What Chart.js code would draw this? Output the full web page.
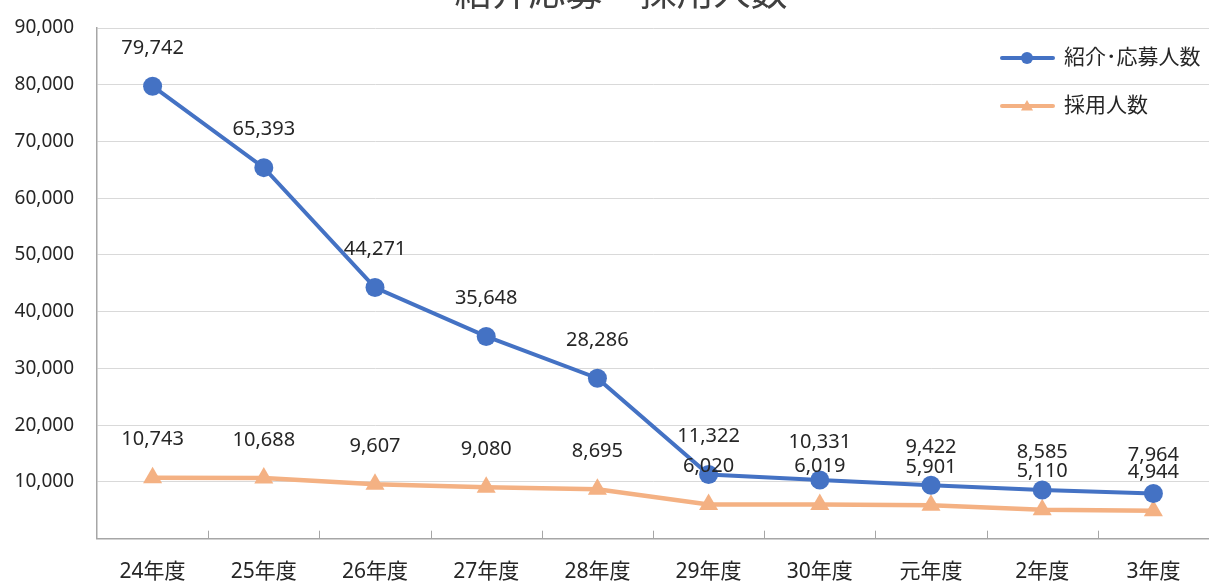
<!DOCTYPE html>
<html><head><meta charset="utf-8">
<script src="https://cdn.jsdelivr.net/npm/chart.js@4.4.1/dist/chart.umd.min.js"></script>
<style>html,body{margin:0;padding:0;background:#fff;overflow:hidden}#wrap{width:1209px;height:586px;position:relative}</style>
</head><body><div id="wrap"><canvas id="c"></canvas></div>
<script>
const chartTitle = '紹介応募・採用人数';
const categories = ['24年度','25年度','26年度','27年度','28年度','29年度','30年度','元年度','2年度','3年度'];
const seriesNames = ['紹介･応募人数','採用人数'];
const applicants = [79742,65393,44271,35648,28286,11322,10331,9422,8585,7964];
const hires = [10743,10688,9607,9080,8695,6020,6019,5901,5110,4944];
const yMin = 0, yMax = 90000, yStep = 10000;

const FONT = "'Noto Sans','Noto Sans CJK JP',sans-serif";
const BLUE = '#4472C4', ORANGE = '#F4B183';
const fmt = v => v.toLocaleString('en-US');

const overlay = {
  id: 'overlay',
  afterDatasetsDraw(chart) {
    const ctx = chart.ctx, xs = chart.scales.x, a = chart.chartArea;
    ctx.save();
    ctx.strokeStyle = '#a6a6a6'; ctx.lineWidth = 1;
    for (let i = 1; i < categories.length; i++) {
      const px = Math.round((xs.getPixelForValue(i - 1) + xs.getPixelForValue(i)) / 2) + 0.5;
      ctx.beginPath(); ctx.moveTo(px, a.bottom); ctx.lineTo(px, a.bottom - 8); ctx.stroke();
    }
    ctx.font = '20px ' + FONT; ctx.fillStyle = '#262626';
    ctx.textAlign = 'center'; ctx.textBaseline = 'middle';
    chart.data.datasets.forEach((ds, di) => {
      chart.getDatasetMeta(di).data.forEach((pt, i) => {
        ctx.fillText(fmt(ds.data[i]), pt.x, pt.y - 38);
      });
    });
    const items = [[BLUE, 'circle', seriesNames[0], 58], [ORANGE, 'triangle', seriesNames[1], 106]];
    items.forEach(([col, style, label, y]) => {
      ctx.strokeStyle = col; ctx.lineWidth = 4; ctx.lineCap = 'round';
      ctx.beginPath(); ctx.moveTo(1002, y); ctx.lineTo(1053, y); ctx.stroke();
      ctx.fillStyle = col;
      Chart.helpers.drawPoint(ctx, {pointStyle: style, radius: style === 'circle' ? 6 : 7, borderWidth: 0, rotation: 0}, 1027, y + (style === 'triangle' ? 1 : 0));
      ctx.fillStyle = '#262626'; ctx.textAlign = 'left'; ctx.textBaseline = 'middle';
      ctx.font = '21px ' + FONT;
      ctx.fillText(label, 1064, y);
    });
    ctx.font = '37px ' + FONT; ctx.fillStyle = '#404040';
    ctx.textAlign = 'center'; ctx.textBaseline = 'alphabetic';
    ctx.fillText(chartTitle, 621, 6);
    ctx.restore();
  }
};

new Chart(document.getElementById('c'), {
  type: 'line',
  data: {
    labels: categories,
    datasets: [
      {label: seriesNames[1], data: hires, borderColor: ORANGE, backgroundColor: ORANGE, borderWidth: 4.5,
       pointStyle: 'triangle', pointRadius: 11, pointHoverRadius: 11, pointBorderWidth: 0, tension: 0, clip: false, order: 2},
      {label: seriesNames[0], data: applicants, borderColor: BLUE, backgroundColor: BLUE, borderWidth: 4,
       pointStyle: 'circle', pointRadius: 9.5, pointHoverRadius: 9.5, pointBorderWidth: 0, tension: 0, clip: false, order: 1}
    ]
  },
  options: {
    responsive: true, maintainAspectRatio: false, animation: false,
    layout: {autoPadding: false, padding: {top: 28, left: 0, right: 0, bottom: 0}},
    plugins: {legend: {display: false}, title: {display: false}, tooltip: {enabled: false}},
    events: [],
    scales: {
      x: {
        offset: true,
        grid: {display: true, drawOnChartArea: false, drawTicks: false},
        border: {display: true, color: '#a6a6a6', width: 1.5},
        ticks: {padding: 21, color: '#262626', font: {size: 21, family: FONT}, maxRotation: 0, autoSkip: false},
        afterFit(s) { s.height = 47.3; s.paddingLeft = 0; s.paddingRight = 0; s.paddingTop = 0; s.paddingBottom = 0; }
      },
      y: {
        min: yMin, max: yMax,
        grid: {color: '#d9d9d9', drawTicks: false},
        border: {display: true, color: '#a6a6a6', width: 1.5},
        ticks: {stepSize: yStep, padding: 23, color: '#262626', font: {size: 19, family: FONT},
                callback: v => v === 0 ? '' : fmt(v)},
        afterFit(s) { s.width = 97; s.paddingLeft = 0; s.paddingRight = 0; s.paddingTop = 0; s.paddingBottom = 0; }
      }
    }
  },
  plugins: [overlay]
});
</script></body></html>
